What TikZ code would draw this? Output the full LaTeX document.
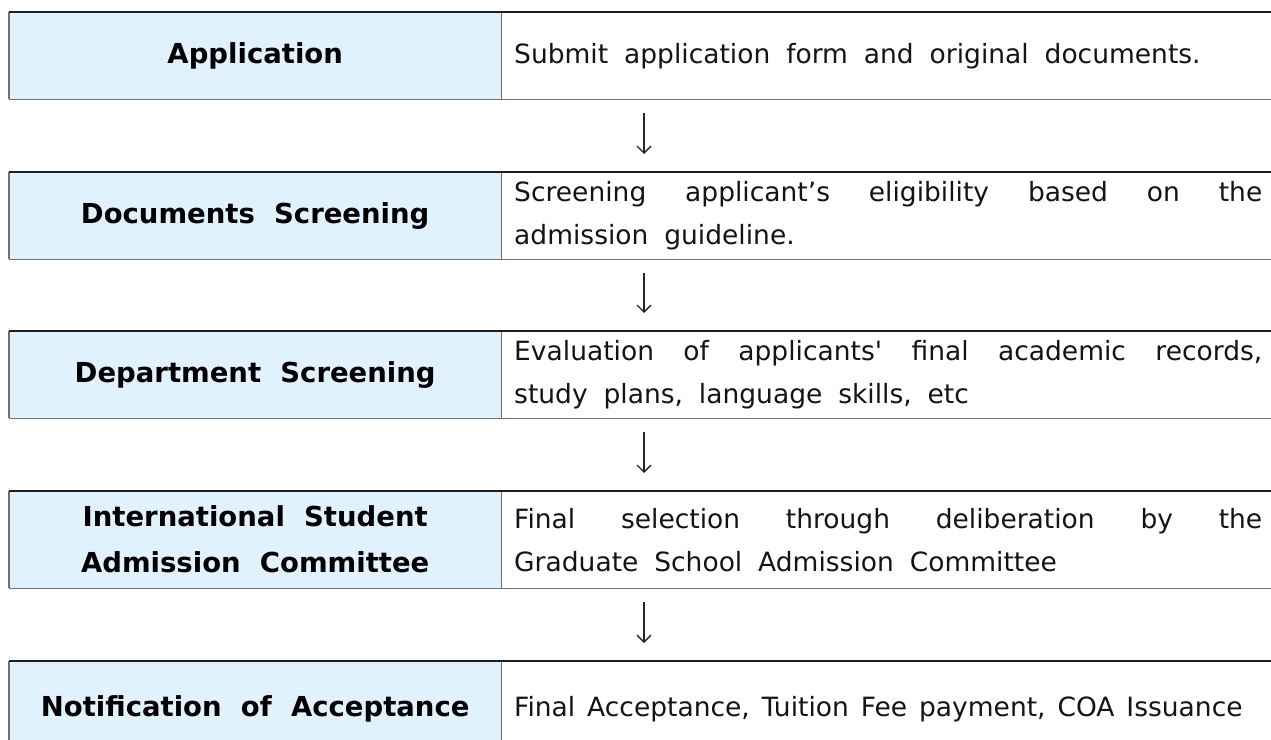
\documentclass[tikz,border=0pt]{standalone}
\usepackage{fontspec}
\setmainfont{DejaVu Sans}
\usetikzlibrary{arrows.meta}
\definecolor{headblue}{HTML}{E0F2FD}
\definecolor{topline}{HTML}{1E1E1E}
\definecolor{greyline}{HTML}{707070}
\newcommand{\labfont}{\bfseries\fontsize{27.5}{46}\selectfont\spaceskip=0.7em plus 0.1em}
\newcommand{\descfont}{\fontsize{26.5}{43}\selectfont}
\begin{document}
\begin{tikzpicture}[x=1pt,y=-1pt,
  labbox/.style={fill=headblue, minimum width=492pt, minimum height=#1, anchor=north west,
    inner sep=0pt, font=\labfont, align=center, text=black},
  descbox/.style={fill=white, minimum width=780pt, minimum height=#1, anchor=north west,
    inner xsep=13pt, inner ysep=0pt, text width=754pt, font=\descfont, align=left, text=black!92,
    execute at begin node={\spaceskip=0.6em plus 0.1em\relax}},
  tightsp/.style={execute at begin node={\spaceskip=0.45em plus 0.1em\relax}},
  topl/.style={draw=topline, line width=1.4pt},
  botl/.style={draw=greyline, line width=1.4pt},
  sidel/.style={draw=greyline, line width=1.4pt},
  arr/.style={draw=black!85, line width=1.3pt, -{Straight Barb[length=7pt,width=14pt]},
    shorten <=14pt, shorten >=18pt}]
\useasboundingbox (0,0) rectangle (1271,739);

\node[labbox=87pt] (L1) at (9,12) {Application};
\node[descbox=87pt] (R1) at (501,12) {Submit application form and original documents.};

\node[labbox=87pt] (L2) at (9,172) {Documents Screening};
\node[descbox=87pt] (R2) at (501,172) {\hbox to 748pt{Screening\hfill applicant’s\hfill eligibility\hfill based\hfill on\hfill the}\\admission guideline.};

\node[labbox=87pt] (L3) at (9,331) {Department Screening};
\node[descbox=87pt] (R3) at (501,331) {\hbox to 748pt{Evaluation\hfill of\hfill applicants\textquotesingle\hfill final\hfill academic\hfill records,}\\study plans, language skills, etc};

\node[labbox=97pt] (L4) at (9,491) {International Student\\Admission Committee};
\node[descbox=97pt] (R4) at (501,491) {\hbox to 748pt{Final\hfill selection\hfill through\hfill deliberation\hfill by\hfill the}\\Graduate School Admission Committee};

\node[labbox=96pt] (L5) at (9,661) {Notification of Acceptance};
\node[descbox=96pt, tightsp] (R5) at (501,661) {Final Acceptance, Tuition Fee payment, COA Issuance};

\foreach \i in {1,...,5}{
  \draw[botl] (L\i.south west) -- (R\i.south east);
  \draw[sidel] (L\i.north west) -- (L\i.south west);
  \draw[sidel] (L\i.north east) -- (L\i.south east);
  \draw[topl] (L\i.north west) -- (R\i.north east);
}

\coordinate (ax) at (644,0);
\draw[arr] (R1.south -| ax) -- (R2.north -| ax);
\draw[arr] (R2.south -| ax) -- (R3.north -| ax);
\draw[arr] (R3.south -| ax) -- (R4.north -| ax);
\draw[arr] (R4.south -| ax) -- (R5.north -| ax);
\end{tikzpicture}
\end{document}
